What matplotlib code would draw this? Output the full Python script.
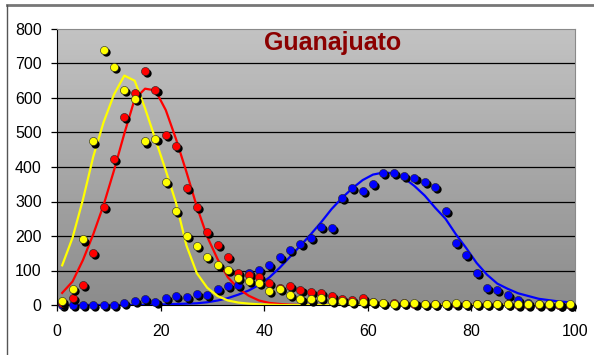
import numpy as np
import matplotlib
matplotlib.use("Agg")
import matplotlib.pyplot as plt
from matplotlib.colors import LinearSegmentedColormap
from matplotlib.transforms import ScaledTranslation
from matplotlib.lines import Line2D

# --- datos ---
x = np.arange(1, 100, 2)

amarillo_pts = [12, 47, 190, 474, 740, 690, 622, 597, 474, 481,
                356, 273, 201, 171, 138, 116, 101, 79, 69, 63,
                41, 47, 28, 18, 16, 21, 13, 12, 9, 10,
                8, 5, 4, 5, 5, 4, 3, 4, 6, 3,
                3, 3, 4, 4, 3, 3, 3, 3, 3, 3]
rojo_pts = [5, 21, 58, 150, 283, 423, 546, 615, 678, 622,
            493, 461, 340, 284, 213, 175, 140, 93, 86, 80,
            65, 50, 56, 43, 39, 34, 27, 18, 14, 20,
            8, 6, 5, 5, 4, 4, 3, 3, 3, 2,
            2, 2, 2, 2, 1, 1, 1, 1, 1, 1]
azul_pts = [0, 0, 1, 0, 1, 1, 6, 13, 18, 9,
            21, 25, 22, 33, 30, 47, 55, 57, 92, 101,
            116, 138, 159, 176, 195, 225, 222, 309, 340, 331,
            351, 384, 382, 374, 367, 356, 341, 273, 179, 145,
            94, 50, 43, 29, 14, 6, 3, 2, 1, 1]

# curvas ajustadas
amarillo_fit = [115, 195, 305, 430, 530, 610, 665, 650, 570, 480,
                390, 295, 172, 92, 50, 26, 13, 7, 4, 2,
                1, 0, 0, 0, 0, 0, 0, 0, 0, 0,
                0, 0, 0, 0, 0, 0, 0, 0, 0, 0,
                0, 0, 0, 0, 0, 0, 0, 0, 0, 0]
rojo_fit = [35, 68, 130, 205, 290, 390, 497, 597, 627, 622,
            565, 480, 385, 285, 198, 133, 80, 48, 27, 13,
            6, 3, 1, 0, 0, 0, 0, 0, 0, 0,
            0, 0, 0, 0, 0, 0, 0, 0, 0, 0,
            0, 0, 0, 0, 0, 0, 0, 0, 0, 0]
azul_fit = [0, 0, 0, 0, 0, 0, 0, 0, 1, 1,
            2, 3, 4, 5, 8, 13, 20, 30, 42, 58,
            80, 108, 140, 172, 205, 240, 278, 310, 338, 362,
            378, 384, 382, 368, 345, 317, 282, 250, 205, 165,
            122, 88, 62, 47, 34, 26, 18, 14, 10, 8]

plt.rcParams['font.family'] = ['Liberation Sans', 'DejaVu Sans']

fig = plt.figure(figsize=(5.94, 3.55), dpi=100)
ax = fig.add_axes([57 / 594, 1 - 305 / 355, 518 / 594, 276 / 355])

# fondo degradado
cmap = LinearSegmentedColormap.from_list("gris", ["#8c8c8c", "#c3c3c3"])
grad = np.linspace(0, 1, 256).reshape(-1, 1)
ax.imshow(grad, extent=[0, 1, 0, 1], transform=ax.transAxes, aspect='auto',
          cmap=cmap, origin='lower', zorder=0)

for yv in range(100, 800, 100):
    ax.axhline(yv, color='black', lw=0.9, zorder=1)

# lineas
ax.plot(x, azul_fit, color='#0000ff', lw=1.6, zorder=2)
ax.plot(x, rojo_fit, color='#ff0000', lw=1.6, zorder=2)
ax.plot(x, amarillo_fit, color='#ffff00', lw=1.6, zorder=2)

# puntos con sombra
sombra = ax.transData + ScaledTranslation(1.5 / 72, -1.5 / 72, fig.dpi_scale_trans)
for pts, col, z in [(azul_pts, '#0000ff', 3), (rojo_pts, '#ff0000', 4),
                    (amarillo_pts, '#ffff00', 5)]:
    ax.scatter(x, pts, s=36, color='black', linewidths=0, transform=sombra,
               zorder=z, clip_on=False)
    ax.scatter(x, pts, s=34, color=col, edgecolors='#222222', linewidths=0.4,
               zorder=z + 0.1, clip_on=False)

ax.set_xlim(0, 100)
ax.set_ylim(0, 800)
ax.set_xticks(range(0, 101, 20))
ax.set_yticks(range(0, 801, 100))
ax.tick_params(axis='both', labelsize=11.5, length=4, width=0.9, color='black')
ax.tick_params(axis='x', pad=10)
ax.tick_params(axis='y', pad=7)

ax.spines['top'].set_color('#8a8a8a')
ax.spines['right'].set_color('#8a8a8a')
ax.spines['left'].set_color('black')
ax.spines['bottom'].set_color('black')

ax.text(0.532, 0.949, "Guanajuato", transform=ax.transAxes, ha='center',
        va='center', fontsize=18, fontweight='bold', color='#8b0000')

# marco de la figura
fig.add_artist(Line2D([7 / 594, 1], [1 - 5 / 355, 1 - 5 / 355], color='#777777', lw=2))
fig.add_artist(Line2D([7 / 594, 7 / 594], [0, 1 - 5 / 355], color='#555555', lw=1))

fig.savefig("out.png", dpi=100)
